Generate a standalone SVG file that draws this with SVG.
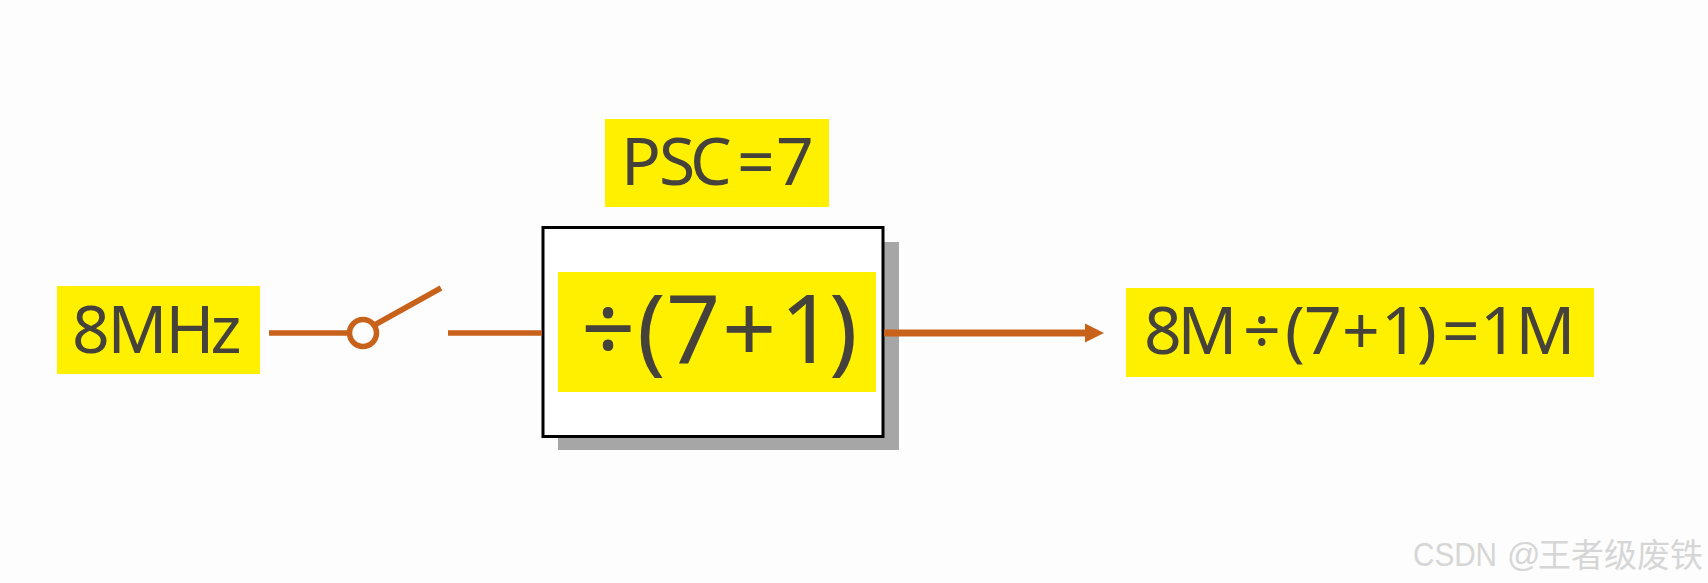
<svg xmlns="http://www.w3.org/2000/svg" width="1708" height="583" viewBox="0 0 1708 583">
<style>
.hl{fill:#fff000}
.t{font-family:"Noto Sans","Open Sans","Liberation Sans",sans-serif;fill:#44423a;font-size:66px}
.w{fill:none;stroke:#c8611a;stroke-width:5.5}
.wm{font-family:"Liberation Sans","Noto Sans CJK SC",sans-serif;font-size:33px;fill:#d6d6d6}
</style>
<rect width="1708" height="583" fill="#fdfdfd"/>
<g id="input"><rect class="hl" x="57" y="286" width="203" height="88"/><text class="t" x="72 107.500 165.500 210.500" y="353">8MHz</text></g>
<g id="divider">
<rect x="558" y="242" width="341" height="208" fill="#a6a6a6"/>
<rect x="543" y="227.500" width="340" height="209" fill="#fff" stroke="#000" stroke-width="3"/>
<rect class="hl" x="558" y="272" width="318" height="120"/>
<text class="t" style="font-size:95px" x="581 637 666 722 780 829" y="363">÷(7+1)</text>
</g>
<g id="psc"><rect class="hl" x="605" y="119" width="224" height="88"/><text class="t" x="621 659 690 737 776" y="185">PSC=7</text></g>
<g id="output"><rect class="hl" x="1126" y="288" width="468" height="89"/><text class="t" x="1144 1177.500 1243 1285 1304 1342 1381 1417 1442 1480 1515.500" y="354">8M÷(7+1)=1M</text></g>
<g id="switch"><circle class="w" cx="363" cy="333" r="13.500"/></g>
<g id="connectors">
<path class="w" d="M269 333H349.500M374.500 325L441 288M448 333H542"/>
<path d="M884 333H1088" fill="none" stroke="#c8611a" stroke-width="7"/>
<path d="M1085 323.500L1104 333L1085 342.500Z" fill="#c8611a"/>
</g>
<g id="watermark">
<text class="wm" x="1413" y="566" textLength="84" lengthAdjust="spacingAndGlyphs">CSDN</text>
<text class="wm" x="1507" y="566">@</text>
<text class="wm" x="1538 1571 1604 1637 1670" y="567">王者级废铁</text>
</g>
</svg>
